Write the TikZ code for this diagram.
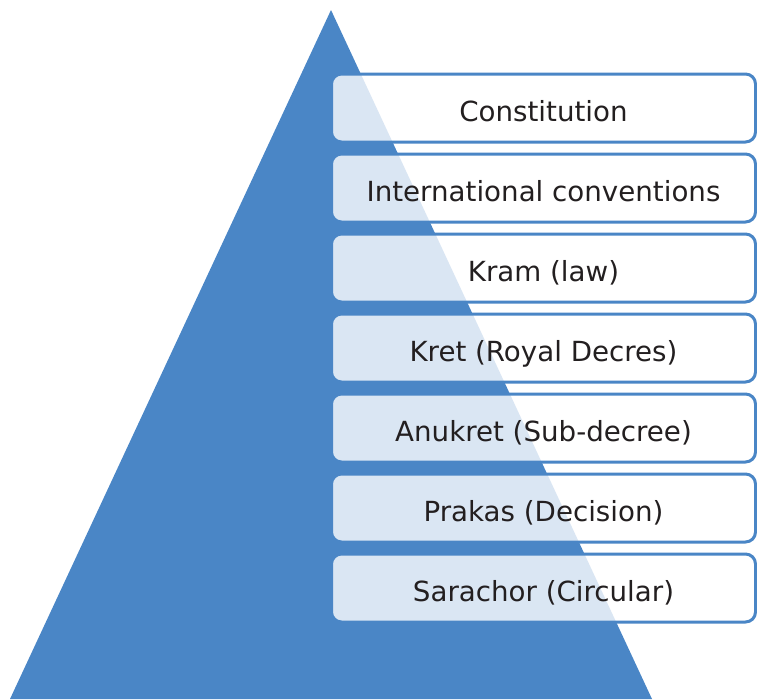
\documentclass[tikz,border=0pt]{standalone}
\usepackage{fontspec}
\setmainfont{DejaVu Sans}
\definecolor{pyrblue}{RGB}{74,134,198}
\definecolor{txt}{RGB}{35,31,32}
\tikzset{
  levelbox/.style={draw=pyrblue, line width=3pt, fill=white, fill opacity=0.8, text opacity=1,
    rounded corners=10pt, minimum width=424pt, minimum height=68pt, inner sep=0pt,
    text height=26pt, text depth=0pt, text=txt, font=\fontsize{27.7}{30}\selectfont}
}
\begin{document}
\begin{tikzpicture}[x=1pt,y=-1pt]
\useasboundingbox (0,0) rectangle (757,699);
\fill[pyrblue] (331,10) coordinate (apex) -- (10,699) coordinate (bl) -- (652,699) coordinate (br) -- cycle;
\node[levelbox] (b1) at (543.5,108) {Constitution};
\node[levelbox] (b2) at (543.5,188) {International conventions};
\node[levelbox] (b3) at (543.5,268) {Kram (law)};
\node[levelbox] (b4) at (543.5,348) {Kret (Royal Decres)};
\node[levelbox] (b5) at (543.5,428) {Anukret (Sub-decree)};
\node[levelbox] (b6) at (543.5,508) {Prakas (Decision)};
\node[levelbox] (b7) at (543.5,588) {Sarachor (Circular)};
\end{tikzpicture}
\end{document}
